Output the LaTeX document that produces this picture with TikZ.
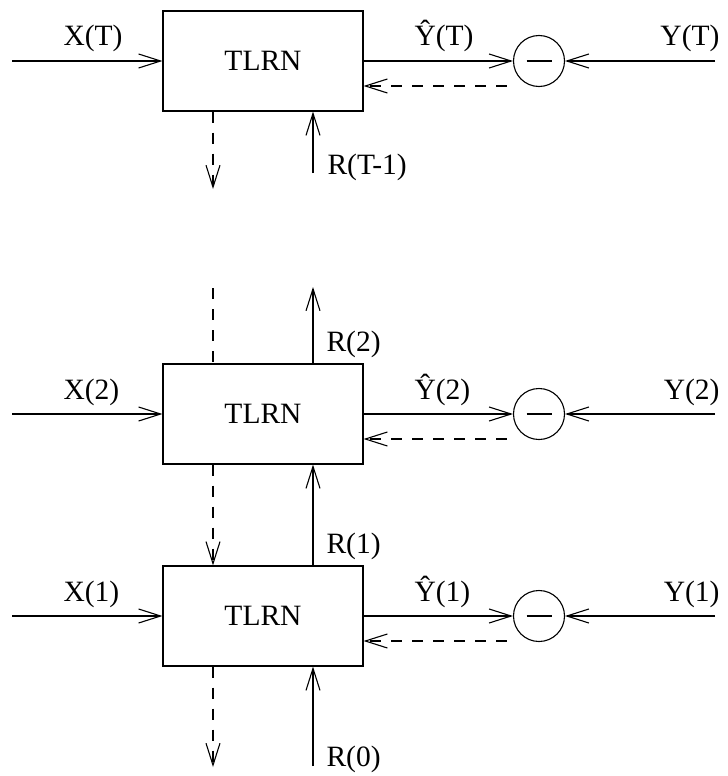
\documentclass[tikz,border=0pt]{standalone}
\usepackage{fontspec}
\setmainfont{Liberation Serif}
\usetikzlibrary{arrows.meta,calc}
\begin{document}
\begin{tikzpicture}[x=1bp,y=-1bp,line width=1.1bp,
  >={Straight Barb[length=22bp,width=14bp]},
  tlrn/.style={draw,minimum width=200bp,minimum height=100bp,inner sep=0pt,font=\fontsize{29.5bp}{35bp}\selectfont},
  sub/.style={draw,circle,minimum size=51bp,inner sep=0pt},
  lbl/.style={inner sep=0pt,font=\fontsize{29.5bp}{35bp}\selectfont},
  dsh/.style={dash pattern=on 11bp off 10bp}]
\useasboundingbox (0,0) rectangle (728,776);
% nodes
\node[tlrn] (b3) at (263,61) {TLRN};
\node[tlrn] (b2) at (263,414) {TLRN};
\node[tlrn] (b1) at (263,616) {TLRN};
\node[sub] (c3) at (539,61) {};
\node[sub] (c2) at (539,414) {};
\node[sub] (c1) at (539,616) {};
\foreach \c in {c1,c2,c3}{\draw ($(\c.center)+(-12.5,0)$) -- ($(\c.center)+(12.5,0)$);}
% free ends
\coordinate (x3) at (12,61);
\coordinate (x2) at (12,414);
\coordinate (x1) at (12,616);
\coordinate (y3) at (715,61);
\coordinate (y2) at (715,414);
\coordinate (y1) at (715,616);
\coordinate (r3) at (313,173);
\coordinate (r2) at (313,287);
\coordinate (r0) at (313,766);
\coordinate (d3) at (213,189);
\coordinate (d2) at (213,288);
\coordinate (d0) at (213,767);
% connectors per row
\foreach \b/\c/\x/\y in {b3/c3/x3/y3,b2/c2/x2/y2,b1/c1/x1/y1}{
  \draw[->] (\x) -- (\b.west);
  \draw[->] (\b.east) -- (\c.west);
  \draw[->] (\y) -- (\c.east);
  \draw[->,dsh] ($(\c.west)+(-6,25)$) -- ($(\b.east)+(0,25)$);
}
% vertical links
\draw[->,dsh] ($(b3.south)+(-50,0)$) -- (d3);
\draw[->] (r3) -- (r3 |- b3.south);
\draw[dsh] (d2) -- (d2 |- b2.north);
\draw[->] (r2 |- b2.north) -- (r2);
\draw[->,dsh] ($(b2.south)+(-50,0)$) -- ($(b1.north)+(-50,0)$);
\draw[->] ($(b1.north)+(50,0)$) -- ($(b2.south)+(50,0)$);
\draw[->,dsh] ($(b1.south)+(-50,0)$) -- (d0);
\draw[->] (r0) -- (r0 |- b1.south);
% labels
\node[lbl,anchor=base west] (lx3) at (63,46) {X(T)};
\node[lbl,anchor=base west] (lh3) at (414,46) {Ŷ(T)};
\node[lbl,anchor=base east] (ly3) at (720,46) {Y(T)};
\node[lbl,anchor=base west] (lr3) at (327,174) {R(T-1)};
\node[lbl,anchor=base west] (lr2) at (326,351) {R(2)};
\node[lbl,anchor=base west] (lx2) at (63,399) {X(2)};
\node[lbl,anchor=base west] (lh2) at (414,399) {Ŷ(2)};
\node[lbl,anchor=base east] (ly2) at (720,399) {Y(2)};
\node[lbl,anchor=base west] (lr1) at (326,553) {R(1)};
\node[lbl,anchor=base west] (lx1) at (63,601) {X(1)};
\node[lbl,anchor=base west] (lh1) at (414,601) {Ŷ(1)};
\node[lbl,anchor=base east] (ly1) at (720,601) {Y(1)};
\node[lbl,anchor=base west] (lr0) at (326,766) {R(0)};
\end{tikzpicture}
\end{document}
